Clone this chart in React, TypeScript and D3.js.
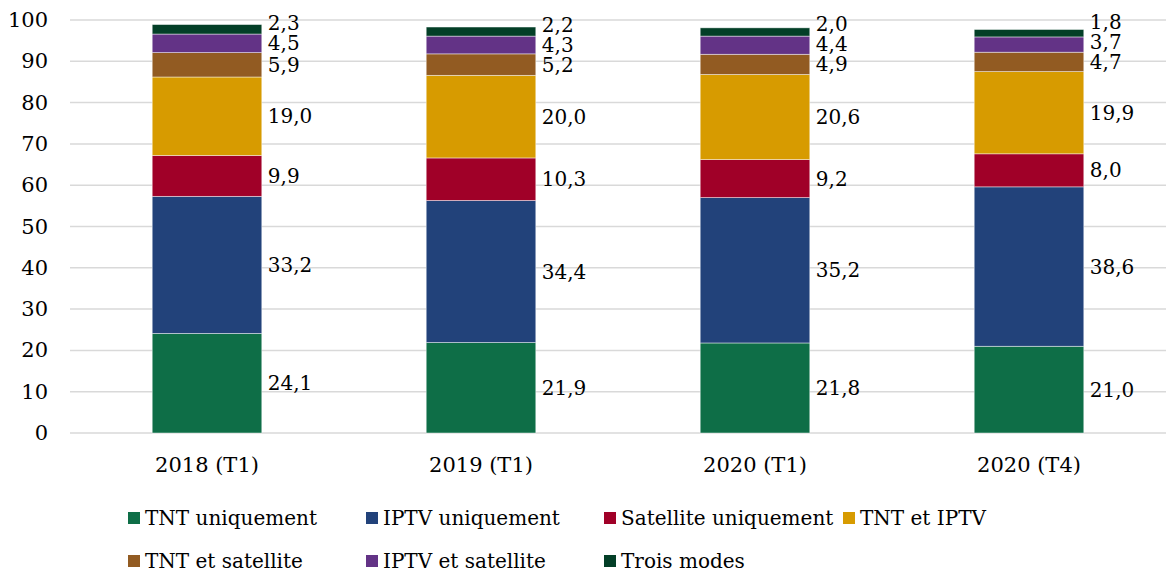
import React from "react";
import * as d3 from "d3";

const categories = ["2018 (T1)", "2019 (T1)", "2020 (T1)", "2020 (T4)"];
const seriesNames = [
  "TNT uniquement",
  "IPTV uniquement",
  "Satellite uniquement",
  "TNT et IPTV",
  "TNT et satellite",
  "IPTV et satellite",
  "Trois modes",
];
const tntOnly = [24.1, 21.9, 21.8, 21.0];
const iptvOnly = [33.2, 34.4, 35.2, 38.6];
const satOnly = [9.9, 10.3, 9.2, 8.0];
const tntIptv = [19.0, 20.0, 20.6, 19.9];
const tntSat = [5.9, 5.2, 4.9, 4.7];
const iptvSat = [4.5, 4.3, 4.4, 3.7];
const threeModes = [2.3, 2.2, 2.0, 1.8];
const yTicks = [0, 10, 20, 30, 40, 50, 60, 70, 80, 90, 100];

const seriesValues = [tntOnly, iptvOnly, satOnly, tntIptv, tntSat, iptvSat, threeModes];
const colors = ["#0e6e47", "#22427a", "#a00028", "#d79b00", "#925b22", "#633386", "#033f27"];

const W = 1166;
const H = 574;
const margin = { top: 20, right: 0, bottom: 141, left: 70 };
const FONT = "'DejaVu Serif', serif";

export default function App() {
  const x = d3
    .scaleBand<string>()
    .domain(categories)
    .range([margin.left, W - margin.right])
    .paddingInner(0.6)
    .paddingOuter(0.3);
  const y = d3.scaleLinear().domain([0, 100]).range([H - margin.bottom, margin.top]);

  const rows = categories.map((c, i) => {
    const r: Record<string, any> = { cat: c };
    seriesNames.forEach((s, j) => (r[s] = seriesValues[j][i]));
    return r;
  });
  const stacked = d3.stack<Record<string, any>>().keys(seriesNames)(rows);

  // label positions: centred on segment, pushed up when they collide
  const labels: { x: number; y: number; text: string }[] = [];
  categories.forEach((c, i) => {
    let prev = Infinity;
    stacked.forEach((layer) => {
      const [a, b] = layer[i];
      let ly = y((a + b) / 2);
      ly = Math.min(ly, prev - 20);
      prev = ly;
      labels.push({
        x: (x(c) ?? 0) + x.bandwidth() + 6,
        y: ly,
        text: (b - a).toFixed(1).replace(".", ","),
      });
    });
  });

  const legendCols = [128, 366, 604, 843];
  const legendRows = [518, 561];

  return (
    <svg width={W} height={H} style={{ position: "absolute", left: 0, top: 0 }} fontFamily={FONT}>
      <rect width={W} height={H} fill="#fff" />
      {yTicks.map((t) => (
        <g key={t}>
          <line x1={margin.left} x2={W} y1={y(t)} y2={y(t)} stroke="#d9d9d9" strokeWidth={1.5} />
          <text x={48} y={y(t)} textAnchor="end" dominantBaseline="central" fontSize={21} fill="#000">
            {t}
          </text>
        </g>
      ))}
      {stacked.map((layer, j) => (
        <g key={j} fill={colors[j]}>
          {layer.map((d, i) => (
            <rect
              key={i}
              x={x(categories[i])}
              width={x.bandwidth()}
              y={y(d[1])}
              height={y(d[0]) - y(d[1])}
              stroke="#ffffff"
              strokeOpacity={0.6}
              strokeWidth={0.75}
            />
          ))}
        </g>
      ))}
      {labels.map((l, k) => (
        <text key={k} x={l.x} y={l.y} dominantBaseline="central" fontSize={20} fill="#000">
          {l.text}
        </text>
      ))}
      {categories.map((c) => (
        <text
          key={c}
          x={(x(c) ?? 0) + x.bandwidth() / 2}
          y={465}
          textAnchor="middle"
          dominantBaseline="central"
          fontSize={21}
          fill="#000"
        >
          {c}
        </text>
      ))}
      {seriesNames.map((s, j) => {
        const lx = legendCols[j % 4];
        const ly = legendRows[Math.floor(j / 4)];
        return (
          <g key={s}>
            <rect x={lx} y={ly - 6} width={12} height={12} fill={colors[j]} />
            <text x={lx + 17} y={ly} dominantBaseline="central" fontSize={20} fill="#000">
              {s}
            </text>
          </g>
        );
      })}
    </svg>
  );
}
